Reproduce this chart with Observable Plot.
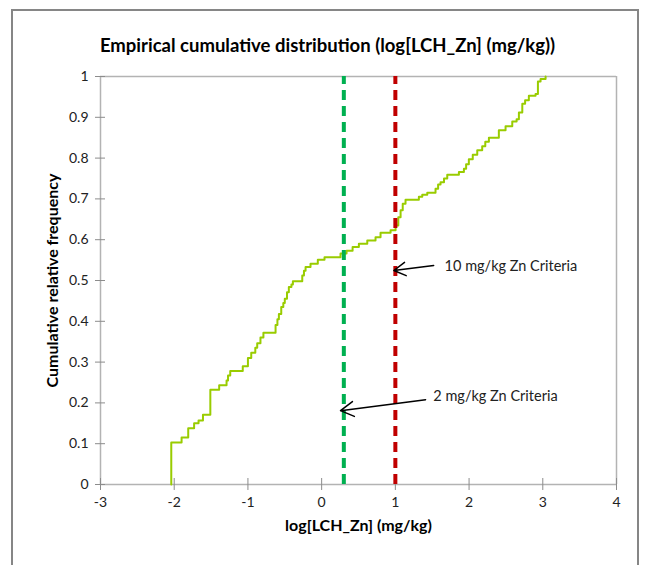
<!DOCTYPE html>
<html><head><meta charset="utf-8">
<script src="https://cdn.jsdelivr.net/npm/d3@7"></script>
<script src="https://cdn.jsdelivr.net/npm/@observablehq/plot@0.6"></script>
<style>
body{margin:0;background:#fff;overflow:hidden;}
#wrap{position:relative;width:645px;height:565px;overflow:hidden;}
#frame{position:absolute;left:11px;top:9px;width:628px;height:600px;border:2px solid #868686;box-sizing:border-box;}
#chart{position:absolute;left:0;top:0;}
</style></head><body><div id="wrap"><div id="frame"></div><div id="chart"></div></div>
<script>
const title = "Empirical cumulative distribution (log[LCH_Zn] (mg/kg))";
const xLabel = "log[LCH_Zn] (mg/kg)";
const yLabel = "Cumulative relative frequency";
const xTicks = [-3, -2, -1, 0, 1, 2, 3, 4];
const yTicks = [0, 0.1, 0.2, 0.3, 0.4, 0.5, 0.6, 0.7, 0.8, 0.9, 1];

// empirical CDF step points (x = log concentration, y = cumulative frequency)
const ecdfX = [-2.04, -2.04, -1.90, -1.81, -1.73, -1.67, -1.61, -1.51, -1.39, -1.29,
               -1.27, -1.24, -1.07, -1.00, -0.955, -0.90, -0.874, -0.83, -0.79, -0.625,
               -0.60, -0.58, -0.548, -0.52, -0.50, -0.47, -0.445, -0.41, -0.39, -0.263,
               -0.24, -0.218, -0.151, -0.052, 0.039, 0.256, 0.338, 0.42, 0.505, 0.619,
               0.731, 0.799, 0.935, 1.003, 1.04, 1.071, 1.10, 1.138, 1.319, 1.365,
               1.433, 1.545, 1.58, 1.613, 1.66, 1.704, 1.862, 1.930, 1.96, 1.997,
               2.05, 2.111, 2.178, 2.22, 2.269, 2.404, 2.495, 2.586, 2.645, 2.676,
               2.722, 2.76, 2.811, 2.902, 2.934, 2.970, 3.038];
const ecdfY = [0, 0.103, 0.115, 0.138, 0.150, 0.157, 0.171, 0.232, 0.243, 0.255,
               0.267, 0.278, 0.290, 0.310, 0.323, 0.335, 0.346, 0.360, 0.372, 0.391,
               0.405, 0.418, 0.435, 0.445, 0.455, 0.471, 0.484, 0.490, 0.498, 0.512,
               0.524, 0.533, 0.541, 0.551, 0.557, 0.566, 0.573, 0.582, 0.590, 0.598,
               0.606, 0.617, 0.623, 0.635, 0.655, 0.672, 0.688, 0.698, 0.705, 0.710,
               0.715, 0.725, 0.735, 0.741, 0.750, 0.759, 0.766, 0.774, 0.785, 0.797,
               0.808, 0.819, 0.829, 0.840, 0.850, 0.868, 0.878, 0.890, 0.895, 0.912,
               0.933, 0.942, 0.953, 0.957, 0.988, 0.994, 1.000];

// criteria lines (log10 of 2 and 10 mg/kg)
const criteriaX = [0.301, 1];
const criteriaColors = ["#00b050", "#c00000"];
const criteriaLabels = ["2 mg/kg Zn Criteria", "10 mg/kg Zn Criteria"];
const labelX = [1.515, 1.668];
const labelY = [0.216, 0.534];
const arrowTailX = [1.41, 1.52];
const arrowTailY = [0.208, 0.537];
const arrowTipX = [0.256, 0.98];
const arrowTipY = [0.181, 0.5245];

const ecdf = ecdfX.map((x, i) => ({x, y: ecdfY[i]}));
const notes = criteriaLabels.map((t, i) => ({
  t, lx: labelX[i], ly: labelY[i],
  x1: arrowTailX[i], y1: arrowTailY[i], x2: arrowTipX[i], y2: arrowTipY[i]
}));

const font = "Lato, 'Open Sans', sans-serif";
const axisGray = "#b3b3b3";
const tickGray = "#8c8c8c";

const plot = Plot.plot({
  width: 645, height: 565,
  marginLeft: 100, marginRight: 29, marginTop: 76, marginBottom: 81,
  x: {domain: [-3, 4]},
  y: {domain: [0, 1]},
  style: {fontFamily: font, fontSize: "14px", background: "transparent", color: "#222"},
  marks: [
    Plot.ruleY([1], {stroke: axisGray, strokeWidth: 1.5}),
    Plot.ruleX([4], {stroke: axisGray, strokeWidth: 1.5}),
    Plot.ruleX([-3], {stroke: axisGray, strokeWidth: 1.5}),
    Plot.ruleY([0], {stroke: axisGray, strokeWidth: 1.5}),
    Plot.ruleX(xTicks, {x: d => d, y1: -0.0147, y2: 0.0147, stroke: tickGray}),
    Plot.ruleY(yTicks, {y: d => d, x1: -3.068, x2: -2.932, stroke: tickGray}),
    Plot.axisX({ticks: xTicks, tickSize: 0, tickPadding: 13, tickFormat: d => String(d), label: null, fontSize: 14}),
    Plot.axisY({ticks: yTicks, tickSize: 0, tickPadding: 12, tickFormat: d => String(d), label: null, fontSize: 14}),
    Plot.line(ecdf, {x: "x", y: "y", curve: "step-after", stroke: "#99cc00", strokeWidth: 2}),
    Plot.ruleX([criteriaX[0]], {x: d => d, y1: 0, y2: 1, stroke: criteriaColors[0], strokeWidth: 4, strokeDasharray: "10,6"}),
    Plot.ruleX([criteriaX[1]], {x: d => d, y1: 0, y2: 1, stroke: criteriaColors[1], strokeWidth: 4, strokeDasharray: "10,6"}),
    Plot.arrow(notes, {x1: "x1", y1: "y1", x2: "x2", y2: "y2", stroke: "#000", strokeWidth: 1.5, headLength: 15, headAngle: 60}),
    Plot.text(notes, {x: "lx", y: "ly", text: "t", textAnchor: "start", fontSize: 14.5, fill: "#222"}),
    Plot.text([title], {frameAnchor: "top", dy: -38, dx: -31, textAnchor: "middle", fontSize: 18.5, fontWeight: "bold", fill: "#000"}),
    Plot.text([xLabel], {frameAnchor: "bottom", dy: 46, textAnchor: "middle", fontSize: 16, fontWeight: "bold", fill: "#000"}),
    Plot.text([yLabel], {frameAnchor: "left", dx: -48, rotate: -90, textAnchor: "middle", fontSize: 16, fontWeight: "bold", fill: "#000"})
  ]
});
document.getElementById("chart").appendChild(plot);
</script>
</body></html>
